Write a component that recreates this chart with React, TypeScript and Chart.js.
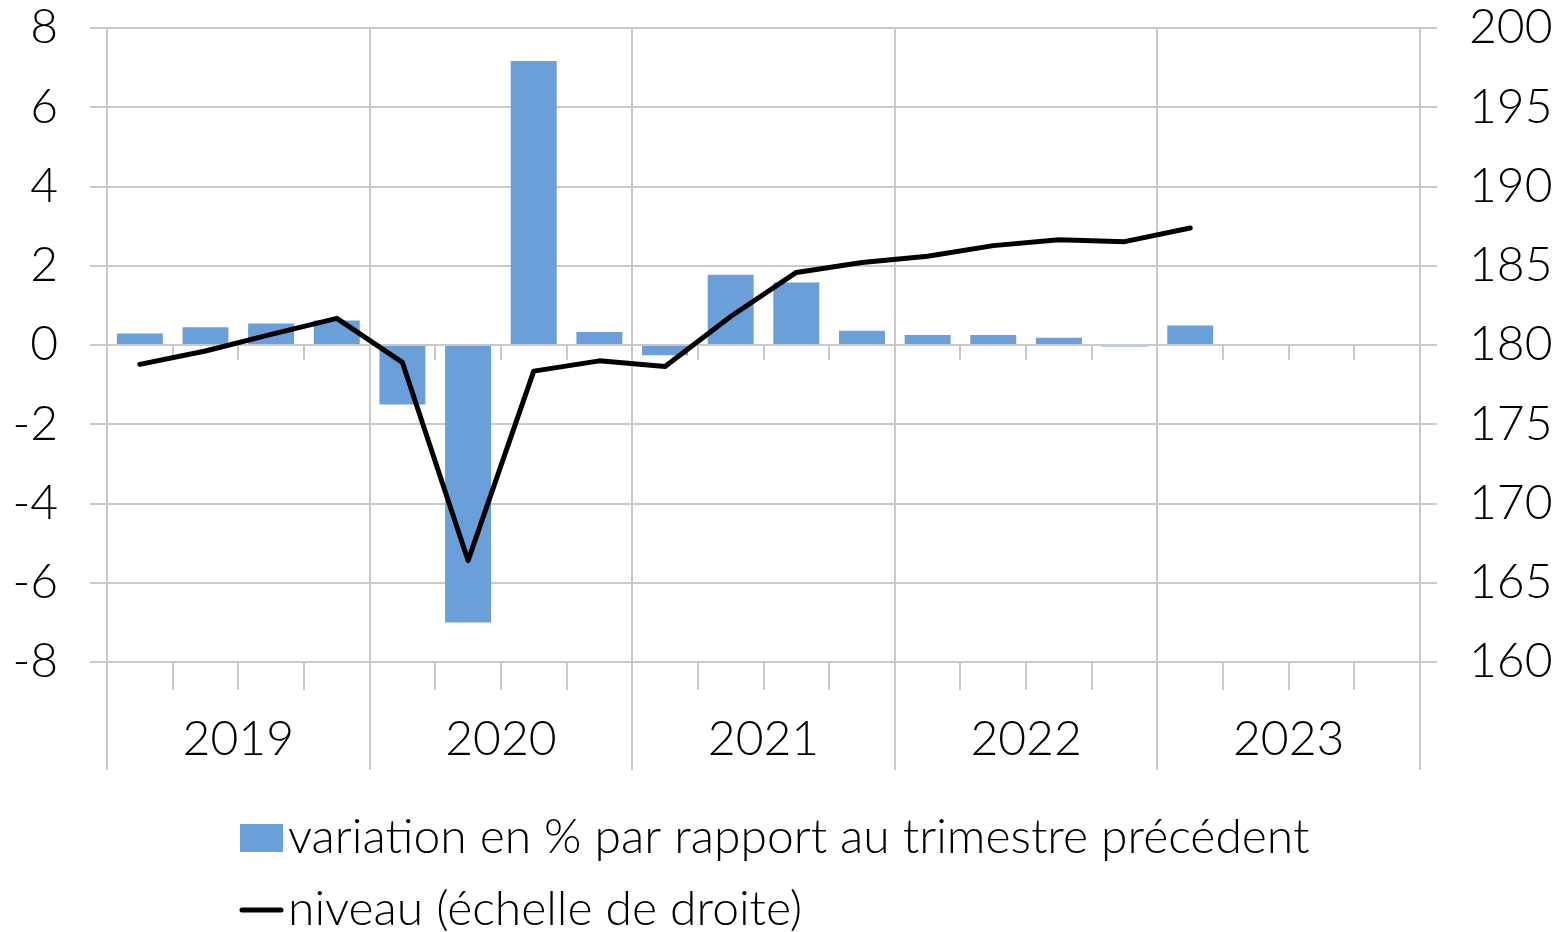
import React, { useEffect, useRef } from 'react';
import { Chart, registerables } from 'chart.js';

Chart.register(...registerables);

const quarters = [
  '2019 T1', '2019 T2', '2019 T3', '2019 T4',
  '2020 T1', '2020 T2', '2020 T3', '2020 T4',
  '2021 T1', '2021 T2', '2021 T3', '2021 T4',
  '2022 T1', '2022 T2', '2022 T3', '2022 T4',
  '2023 T1', '2023 T2', '2023 T3', '2023 T4',
];
const years = ['2019', '2020', '2021', '2022', '2023'];

const variation = [0.29, 0.45, 0.54, 0.62, -1.5, -7.0, 7.17, 0.33, -0.26, 1.77, 1.58, 0.36, 0.25, 0.25, 0.18, -0.04, 0.49];
const niveau = [178.78, 179.62, 180.67, 181.68, 178.9, 166.4, 178.35, 179.0, 178.65, 181.8, 184.58, 185.2, 185.6, 186.27, 186.64, 186.52, 187.38];

const variationLabel = 'variation en % par rapport au trimestre précédent';
const niveauLabel = 'niveau (échelle de droite)';

const GRID = '#c9c9c9';
const BAR = '#6b9fda';
const FONT_FAMILY = 'Lato, "Open Sans", sans-serif';
const FONT_SIZE = 48;
const FONT_WEIGHT = 300;

const axisDecor = {
  id: 'axisDecor',
  beforeDatasetsDraw(chart: any) {
    const { ctx, chartArea } = chart;
    const xs = chart.scales.x;
    const ys = chart.scales.y;
    const n = chart.data.labels.length;
    const w = xs.getPixelForValue(1) - xs.getPixelForValue(0);
    const start = xs.getPixelForValue(0) - w / 2;
    const zeroY = ys.getPixelForValue(0);
    ctx.save();
    ctx.strokeStyle = GRID;
    ctx.lineWidth = 2;
    for (let i = 0; i <= n; i++) {
      const bx = Math.round(start + i * w);
      ctx.beginPath();
      if (i % 4 === 0) {
        ctx.moveTo(bx, chartArea.top);
        ctx.lineTo(bx, chartArea.bottom + 108);
      } else {
        ctx.moveTo(bx, zeroY);
        ctx.lineTo(bx, zeroY + 15);
        ctx.moveTo(bx, chartArea.bottom);
        ctx.lineTo(bx, chartArea.bottom + 28);
      }
      ctx.stroke();
    }
    ctx.fillStyle = '#000';
    ctx.font = `${FONT_WEIGHT} ${FONT_SIZE}px ${FONT_FAMILY}`;
    ctx.textAlign = 'center';
    ctx.textBaseline = 'middle';
    years.forEach((y, k) => {
      const cx = start + (k * 4 + 2) * w;
      ctx.fillText(y, cx, chartArea.bottom + 78);
    });
    ctx.restore();
  },
};

const customLegend = {
  id: 'customLegend',
  afterDraw(chart: any) {
    const { ctx, chartArea } = chart;
    const ds = chart.data.datasets;
    const x0 = 240;
    const y1 = chartArea.bottom + 176;
    const y2 = chartArea.bottom + 248;
    ctx.save();
    ctx.fillStyle = ds[0].backgroundColor;
    ctx.fillRect(x0, y1 - 14, 43, 28);
    ctx.strokeStyle = ds[1].borderColor;
    ctx.lineWidth = 5;
    ctx.lineCap = 'round';
    ctx.beginPath();
    ctx.moveTo(x0 + 2, y2);
    ctx.lineTo(x0 + 41, y2);
    ctx.stroke();
    ctx.fillStyle = '#000';
    ctx.font = `${FONT_WEIGHT} ${FONT_SIZE}px ${FONT_FAMILY}`;
    ctx.textAlign = 'left';
    ctx.textBaseline = 'middle';
    ctx.fillText(ds[0].label, x0 + 48, y1);
    ctx.fillText(ds[1].label, x0 + 48, y2);
    ctx.restore();
  },
};

const fitLeft = (s: any) => { s.width = 107; s.paddingTop = 0; s.paddingBottom = 0; };
const fitRight = (s: any) => { s.width = 135; s.paddingTop = 0; s.paddingBottom = 0; };

export default function App() {
  const ref = useRef<HTMLCanvasElement | null>(null);

  useEffect(() => {
    if (!ref.current) return;
    const chart = new Chart(ref.current, {
      type: 'bar',
      data: {
        labels: quarters,
        datasets: [
          {
            type: 'bar',
            label: variationLabel,
            data: variation,
            backgroundColor: BAR,
            borderWidth: 0,
            barPercentage: 0.7,
            categoryPercentage: 1,
            yAxisID: 'y',
            order: 1,
          } as any,
          {
            type: 'line',
            label: niveauLabel,
            data: niveau,
            borderColor: '#000',
            backgroundColor: '#000',
            borderWidth: 5,
            pointRadius: 0,
            tension: 0,
            borderCapStyle: 'round',
            borderJoinStyle: 'round',
            yAxisID: 'y2',
            order: 0,
          } as any,
        ],
      },
      options: {
        animation: false,
        responsive: true,
        maintainAspectRatio: false,
        events: [],
        layout: { padding: { top: 28, bottom: 270, left: 0, right: 0 } },
        plugins: {
          legend: { display: false },
          tooltip: { enabled: false },
        },
        scales: {
          x: {
            display: false,
            offset: true,
          },
          y: {
            position: 'left',
            min: -8,
            max: 8,
            afterFit: fitLeft,
            ticks: {
              stepSize: 2,
              padding: 32,
              color: '#000',
              font: { family: FONT_FAMILY, size: FONT_SIZE, weight: FONT_WEIGHT, lineHeight: 1 },
            },
            grid: { color: GRID, lineWidth: 2, tickLength: 17, drawTicks: true },
            border: { display: true, color: GRID, width: 2 },
          },
          y2: {
            position: 'right',
            min: 160,
            max: 200,
            afterFit: fitRight,
            ticks: {
              stepSize: 5,
              padding: 32,
              color: '#000',
              font: { family: FONT_FAMILY, size: FONT_SIZE, weight: FONT_WEIGHT, lineHeight: 1 },
            },
            grid: { drawOnChartArea: false, color: GRID, lineWidth: 2, tickLength: 17, drawTicks: true },
            border: { display: true, color: GRID, width: 2 },
          },
        },
      } as any,
      plugins: [axisDecor, customLegend],
    });
    return () => chart.destroy();
  }, []);

  return (
    <div style={{ position: 'fixed', left: 0, top: 0, width: 1555, height: 932, background: '#fff' }}>
      <canvas ref={ref} />
    </div>
  );
}
